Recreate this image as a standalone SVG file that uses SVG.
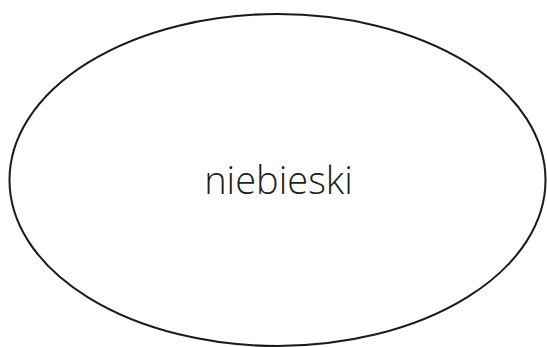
<svg xmlns="http://www.w3.org/2000/svg" width="547" height="347" viewBox="0 0 547 347">
<style>
.node-shape{fill:#fff;stroke:#1a1a1a;stroke-width:2}
.node-label{font-family:"Open Sans","Noto Sans",sans-serif;font-size:38px;font-weight:300;fill:#1e1e1e;text-anchor:middle}
</style>
<rect width="547" height="347" fill="#fff"/>
<g id="connectors"></g>
<g id="node-niebieski">
<ellipse class="node-shape" cx="277.5" cy="180" rx="268" ry="166"/>
<text class="node-label" x="278.5" y="194">niebieski</text>
</g>
</svg>
